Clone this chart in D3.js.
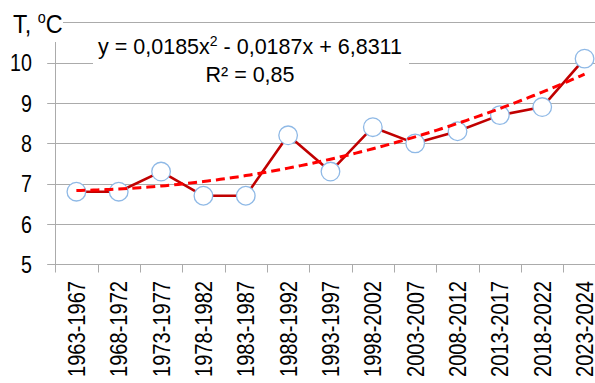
<!DOCTYPE html>
<html>
<head>
<meta charset="utf-8">
<script src="https://cdn.jsdelivr.net/npm/d3@7"></script>
<style>
  html, body { margin: 0; padding: 0; background: #fff; }
  svg { display: block; }
  text { font-family: "Liberation Sans", Arial, sans-serif; fill: #000; }
</style>
</head>
<body>
<svg id="chart" width="595" height="383"></svg>
<script>
// Five-year periods and mean air temperature, °C
const periods = ["1963-1967", "1968-1972", "1973-1977", "1978-1982", "1983-1987",
  "1988-1992", "1993-1997", "1998-2002", "2003-2007", "2008-2012",
  "2013-2017", "2018-2022", "2023-2024"];
const temperature = [6.8, 6.8, 7.3, 6.7, 6.7, 8.2, 7.3, 8.4, 8.0, 8.3, 8.7, 8.9, 10.1];
const yTicks = [5, 6, 7, 8, 9, 10, 11];
const yTickLabels = ["5", "6", "7", "8", "9", "10", ""];
// Polynomial trend (order 2): y = a·x² + b·x + c, x = period number
const trendCoef = [0.0185, -0.0187, 6.8311];
const trendLabel = ["y = 0,0185x", "2", " - 0,0187x + 6,8311"];
const r2Label = "R² = 0,85";

const svg = d3.select("#chart");
const left = 55.2, bandW = 42.35, bottom = 264.3, unit = 40.32;
const narrow = 0.82; // condensed axis lettering

const x = d3.scaleBand().domain(periods).range([left, left + bandW * periods.length]);
const y = d3.scaleLinear().domain([5, 11]).range([bottom, bottom - unit * 6]);
const xNum = d3.scaleLinear().domain([1, periods.length])
  .range([x(periods[0]) + x.bandwidth() / 2, x(periods[periods.length - 1]) + x.bandwidth() / 2]);

const gridColor = "#ababab";

// horizontal gridlines
svg.append("g").selectAll("line").data(yTicks).join("line")
  .attr("x1", left - 8).attr("x2", 620)
  .attr("y1", d => Math.round(y(d)) + 0.5).attr("y2", d => Math.round(y(d)) + 0.5)
  .attr("stroke", gridColor).attr("stroke-width", 1);

// value axis line
svg.append("line")
  .attr("x1", Math.round(left) + 0.5).attr("x2", Math.round(left) + 0.5)
  .attr("y1", y(11)).attr("y2", y(5))
  .attr("stroke", gridColor).attr("stroke-width", 1);

// category axis with tick marks between periods
const xAxis = svg.append("g").attr("transform", `translate(0,${Math.round(bottom) + 0.5})`);
xAxis.selectAll("line").data(d3.range(periods.length + 1)).join("line")
  .attr("x1", i => Math.round(left + i * bandW) + 0.5)
  .attr("x2", i => Math.round(left + i * bandW) + 0.5)
  .attr("y1", 0).attr("y2", 8)
  .attr("stroke", gridColor).attr("stroke-width", 1);

svg.append("g").selectAll("text").data(periods).join("text")
  .attr("transform", d => `translate(${x(d) + x.bandwidth() / 2},281) rotate(-90) scale(${narrow},1)`)
  .attr("text-anchor", "end")
  .attr("dy", "0.35em")
  .style("font-size", "24.5px")
  .text(d => d);

// value tick labels
svg.append("g").selectAll("text").data(yTicks).join("text")
  .attr("transform", d => `translate(32,${y(d)}) scale(${narrow},1)`)
  .attr("dy", "0.36em")
  .attr("text-anchor", "end")
  .style("font-size", "24px")
  .text((d, i) => yTickLabels[i]);

// trend line from the fitted polynomial
const trendPts = d3.range(1, periods.length + 0.001, 0.1).map(t => [t, trendCoef[0] * t * t + trendCoef[1] * t + trendCoef[2]]);

// observed series
const line = d3.line().x((d, i) => x(periods[i]) + x.bandwidth() / 2).y(d => y(d));
svg.append("path").datum(temperature)
  .attr("d", line)
  .attr("fill", "none").attr("stroke", "#c00000").attr("stroke-width", 2.6)
  .attr("stroke-linejoin", "round");

svg.append("g").selectAll("circle").data(temperature).join("circle")
  .attr("cx", (d, i) => x(periods[i]) + x.bandwidth() / 2)
  .attr("cy", d => y(d))
  .attr("r", 9.3)
  .attr("fill", "#fff").attr("stroke", "#8fb9e6").attr("stroke-width", 1.3);

svg.append("path").datum(trendPts)
  .attr("d", d3.line().x(d => xNum(d[0])).y(d => y(d[1])))
  .attr("fill", "none").attr("stroke", "#ff0000").attr("stroke-width", 3)
  .attr("stroke-dasharray", "9,5");

// axis title box
svg.append("rect").attr("x", 0).attr("y", 0).attr("width", 63).attr("height", 42).attr("fill", "#fff");
const title = svg.append("text").attr("transform", "translate(13,33) scale(0.9,1)").style("font-size", "26px");
title.append("tspan").text("T, ");
title.append("tspan").attr("dy", -10).style("font-size", "16px").text("o");
title.append("tspan").attr("dy", 10).text("C");

// trend equation label
svg.append("rect").attr("x", 93).attr("y", 30).attr("width", 316).attr("height", 58).attr("fill", "#fff");
const eq = svg.append("text").attr("x", 250).attr("y", 54).attr("text-anchor", "middle").style("font-size", "21.5px");
eq.append("tspan").text(trendLabel[0]);
eq.append("tspan").attr("dy", -8).style("font-size", "14px").text(trendLabel[1]);
eq.append("tspan").attr("dy", 8).text(trendLabel[2]);
svg.append("text").attr("x", 250).attr("y", 82).attr("text-anchor", "middle").style("font-size", "21.5px").text(r2Label);
</script>
</body>
</html>
